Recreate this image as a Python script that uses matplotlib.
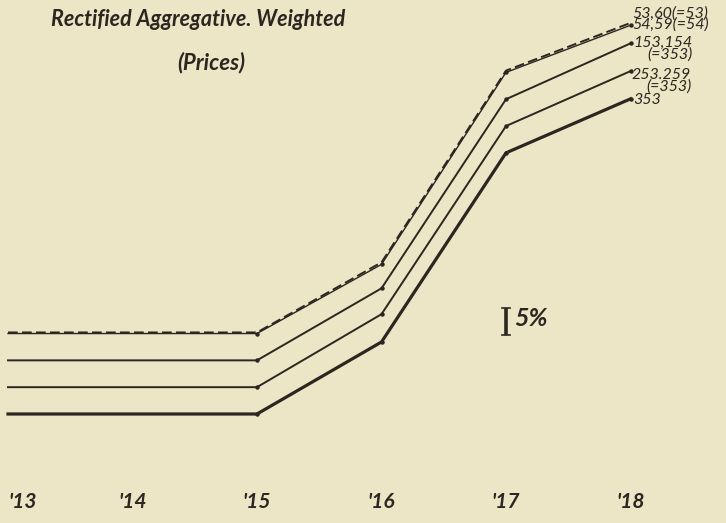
import numpy as np
import matplotlib
matplotlib.use("Agg")
import matplotlib.pyplot as plt

# index numbers (1913 = 100)
years = [1913, 1914, 1915, 1916, 1917, 1918]
f53_60 = [100.0, 100.0, 100.0, 113.6, 161.0, 175.6]
f54_59 = [100.0, 100.0, 100.0, 113.4, 160.8, 175.2]
f153_154 = [100.0, 100.0, 100.0, 114.0, 160.8, 178.0]
f253_259 = [100.0, 100.0, 100.0, 114.2, 160.8, 177.7]
f353 = [100.0, 100.0, 100.0, 114.0, 160.8, 177.4]
year_labels = ["'13", "'14", "'15", "'16", "'17", "'18"]
end_labels = ["53,60(=53)\n54,59(=54)", "153,154\n(=353)", "253.259\n(=353)", "353"]
end_pos = [(632, 19), (633, 49), (632, 81), (633, 100)]

W, H = 726, 523
paper = '#ece5c6'
ink = '#2b2620'
fam = ['Lato', 'DejaVu Sans']

fig = plt.figure(figsize=(W / 100, H / 100), dpi=100, facecolor=paper)

# axes from pixel 0 to 488 vertically, ratio (log) scale
s = 0.00079
ybot = 488
ax = fig.add_axes([0, 1 - ybot / H, 1, ybot / H])
ax.set_facecolor(paper)
ax.set_yscale('log')
ax.set_ylim(10 ** (2 - (ybot - 414) * s), 10 ** (2 + 414 * s))
dx = 124.5
ax.set_xlim(1913 - 8 / dx, 1913 + (W - 8) / dx)

# curves are shifted 5% apart for legibility
step = 1.05
yrs = np.array(years)
mk = dict(marker='o', ms=2.2, markevery=[2, 3, 4, 5])
ax.plot(yrs, np.array(f353), color=ink, lw=2.3, **mk)
ax.plot(yrs, np.array(f253_259) * step, color=ink, lw=1.4, **mk)
ax.plot(yrs, np.array(f153_154) * step ** 2, color=ink, lw=1.4, **mk)
ax.plot(yrs, np.array(f54_59) * step ** 3, color=ink, lw=1.0, **mk)
ax.plot(yrs, np.array(f53_60) * step ** 3 * 1.002, color=ink, lw=1.4, dashes=(5, 2.2))

for sp in ax.spines.values():
    sp.set_visible(False)
ax.set_yticks([])
ax.minorticks_off()
ax.set_xticks(years)
ax.set_xticklabels(year_labels, fontsize=15, fontstyle='italic', fontweight='bold',
                   family=fam, color=ink)
ax.tick_params(axis='x', length=0, pad=3)
ax.get_xticklabels()[0].set_ha('left')

def px(x, y):
    return x / W, 1 - y / H

fig.text(*px(198, 20), 'Rectified Aggregative. Weighted', ha='center', va='center',
         fontsize=15.5, fontstyle='italic', fontweight='bold', family=fam, color=ink)
fig.text(*px(211, 63), '(Prices)', ha='center', va='center',
         fontsize=16, fontstyle='italic', fontweight='bold', family=fam, color=ink)

# 5% scale bar
bar_y = 10 ** (2 + (414 - 335) * s)
bx = 1913 + (506 - 8) / dx
ax.plot([bx, bx], [bar_y, bar_y * 1.05], color=ink, lw=2.6, solid_capstyle='butt')
ax.plot([bx - 4 / dx, bx + 4 / dx], [bar_y, bar_y], color=ink, lw=1.2)
ax.plot([bx - 4 / dx, bx + 4 / dx], [bar_y * 1.05] * 2, color=ink, lw=1.2)
fig.text(*px(514, 319), '5%', ha='left', va='center', fontsize=18,
         fontstyle='italic', fontweight='bold', family=fam, color=ink)

# labels at right end
for (x, y), t in zip(end_pos, end_labels):
    fig.text(*px(x, y), t, ha='left', va='center', fontsize=11.5, linespacing=0.76,
             multialignment='right', fontstyle='italic', family=fam, color=ink)

fig.savefig('out.png', dpi=100, facecolor=paper)
